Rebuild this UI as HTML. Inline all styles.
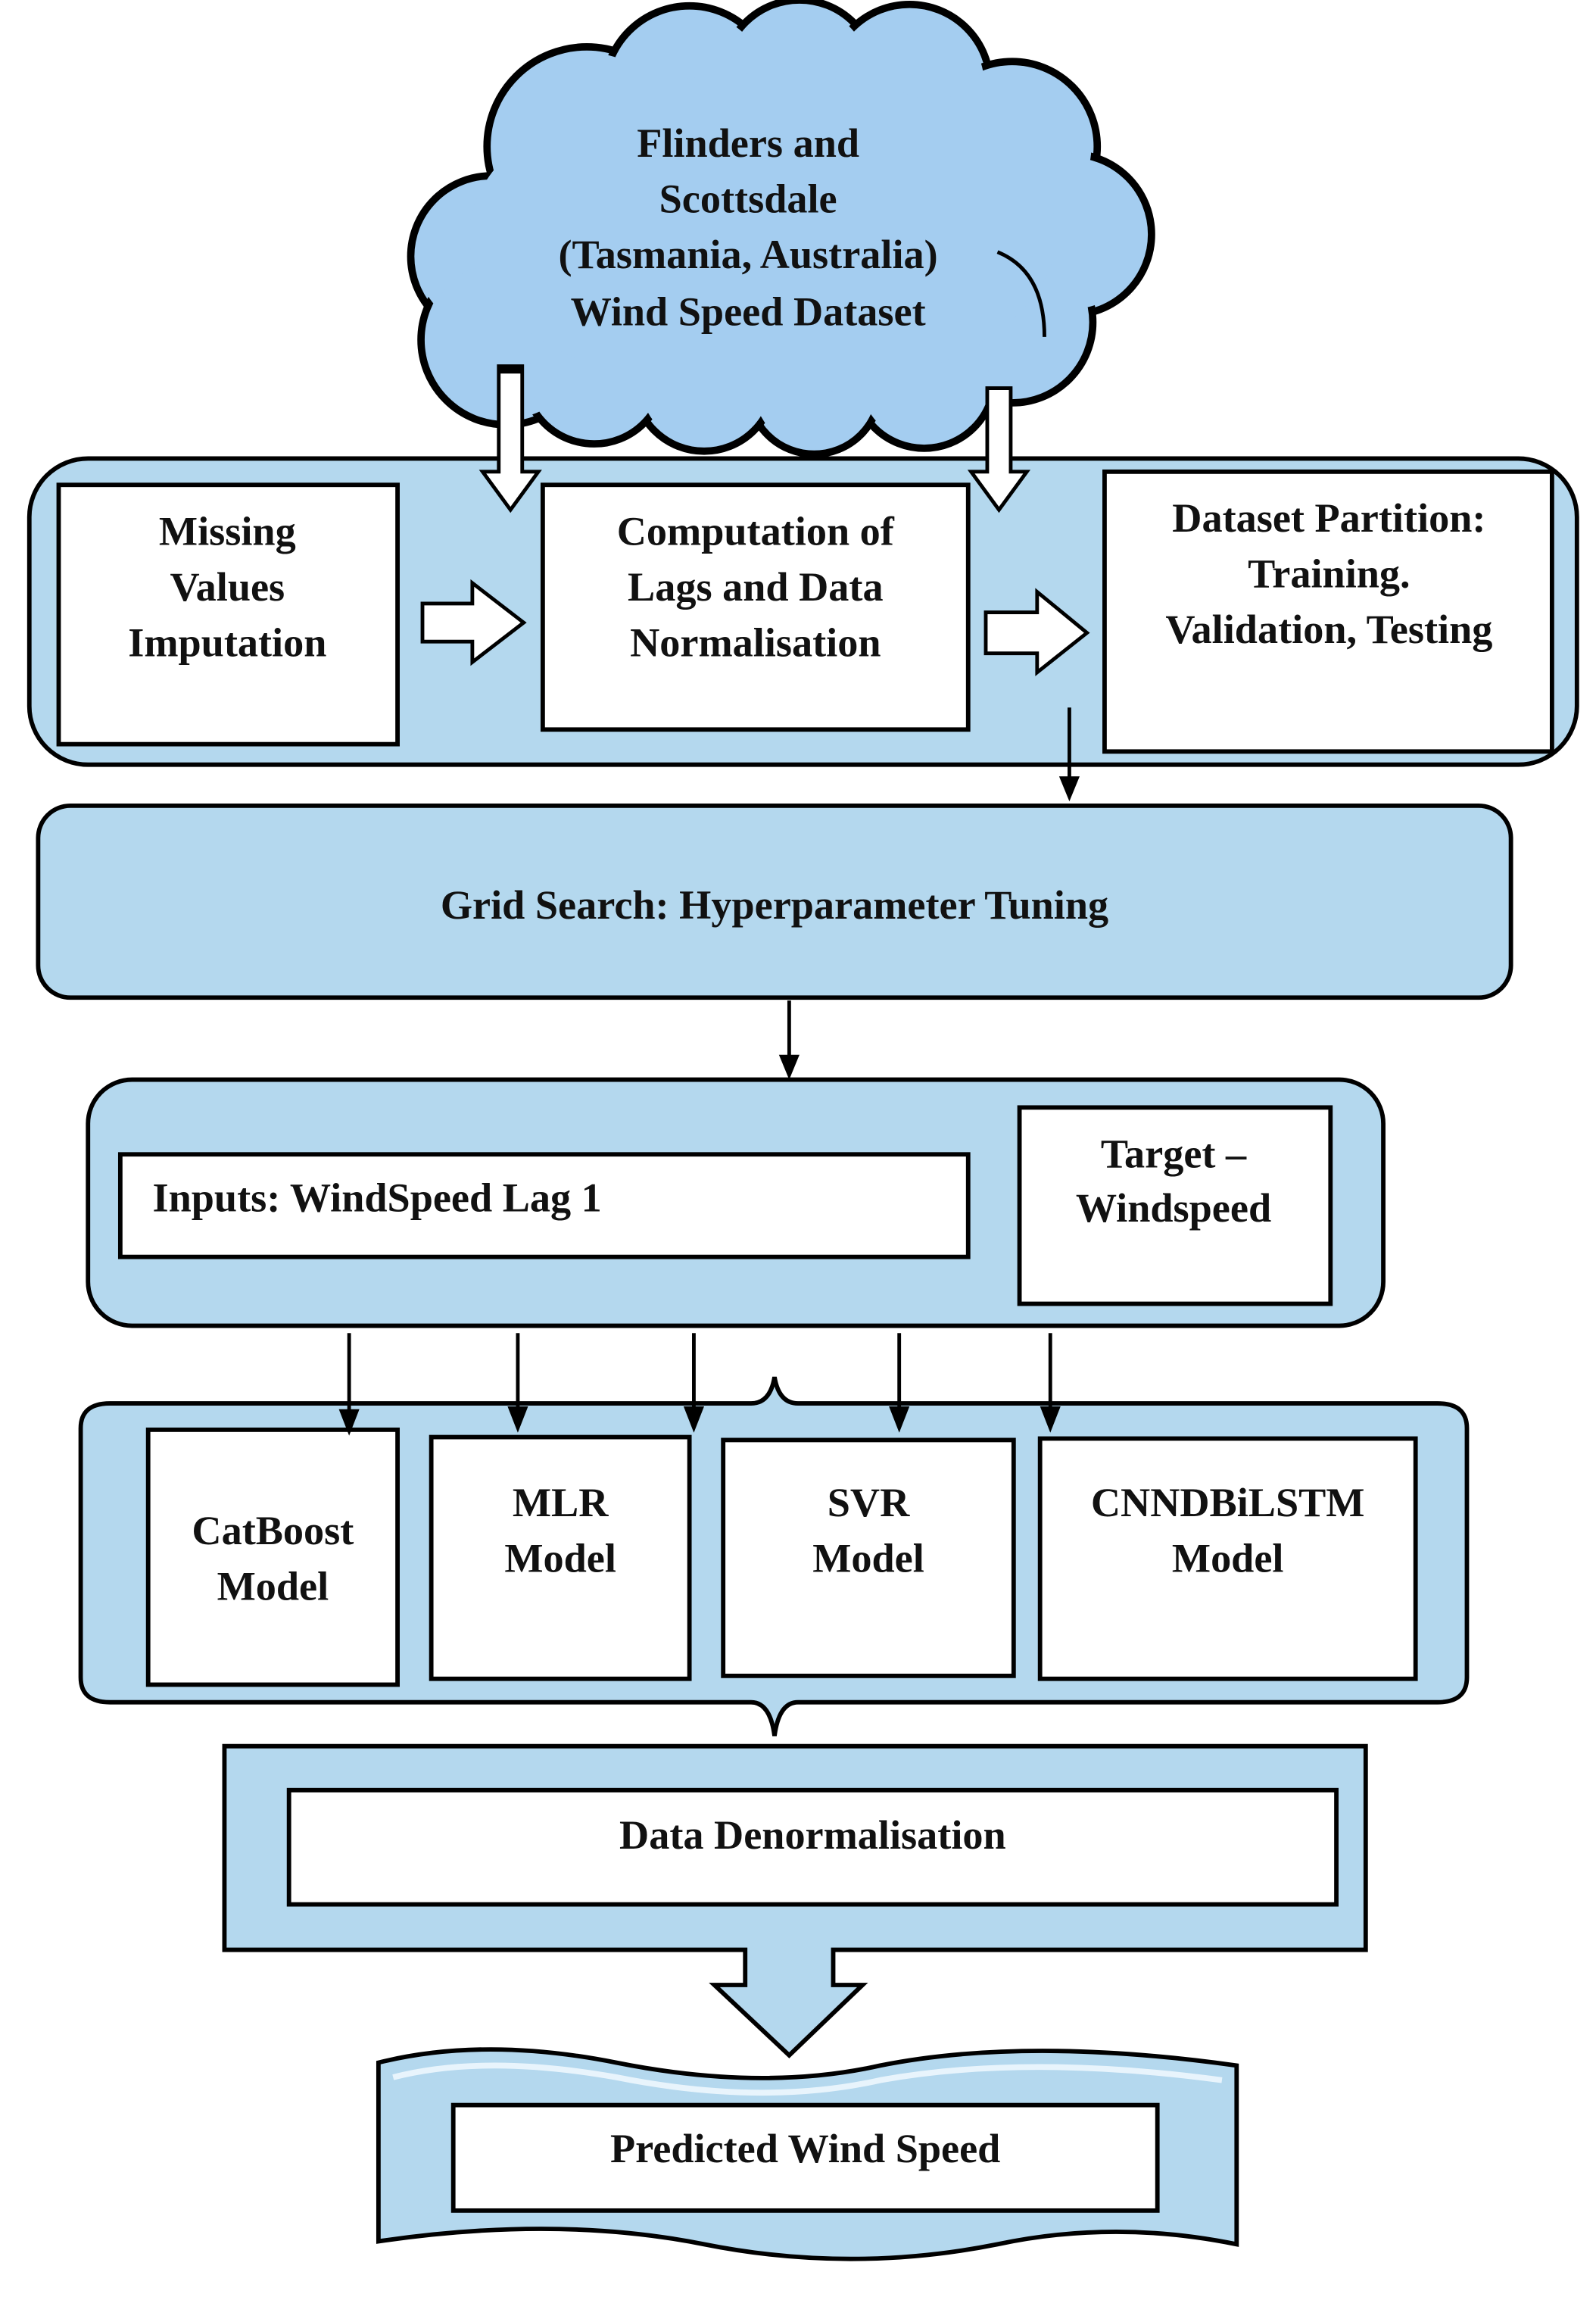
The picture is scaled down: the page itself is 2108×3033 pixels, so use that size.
<!DOCTYPE html>
<html><head><meta charset="utf-8"><style>
html,body{margin:0;padding:0;background:#fff}
svg{display:block}
text{font-family:"Liberation Serif",serif;font-weight:bold;fill:#111;text-anchor:middle}
</style></head><body>
<svg width="2108" height="3033" viewBox="0 0 1088 1568" preserveAspectRatio="none" xmlns="http://www.w3.org/2000/svg">
<!-- cloud -->
<g stroke="#000" stroke-width="5" fill="#a4cdf0">
<circle cx="335" cy="175" r="55"/><circle cx="345" cy="232" r="58"/><circle cx="400" cy="100" r="68"/>
<circle cx="470" cy="62" r="58"/><circle cx="545" cy="52" r="52"/><circle cx="620" cy="58" r="55"/>
<circle cx="690" cy="100" r="58"/><circle cx="730" cy="160" r="55"/><circle cx="690" cy="220" r="55"/>
<circle cx="630" cy="258" r="48"/><circle cx="555" cy="265" r="45"/><circle cx="480" cy="260" r="48"/><circle cx="405" cy="255" r="48"/>
</g>
<g fill="#a4cdf0">
<circle cx="335" cy="175" r="51"/><circle cx="345" cy="232" r="54"/><circle cx="400" cy="100" r="64"/>
<circle cx="470" cy="62" r="54"/><circle cx="545" cy="52" r="48"/><circle cx="620" cy="58" r="51"/>
<circle cx="690" cy="100" r="54"/><circle cx="730" cy="160" r="51"/><circle cx="690" cy="220" r="51"/>
<circle cx="630" cy="258" r="44"/><circle cx="555" cy="265" r="41"/><circle cx="480" cy="260" r="44"/><circle cx="405" cy="255" r="44"/>
<ellipse cx="520" cy="160" rx="200" ry="110"/>
</g>
<path d="M680,172 Q712,185 712,230" fill="none" stroke="#000" stroke-width="2.5"/>
<g font-size="28">
<text x="510" y="107">Flinders and</text>
<text x="510" y="145">Scottsdale</text>
<text x="510" y="183">(Tasmania, Australia)</text>
<text x="510" y="222">Wind Speed Dataset</text>
</g>
<!-- panel 1 -->
<rect x="20" y="313" width="1055" height="209" rx="40" fill="#b4d8ee" stroke="#000" stroke-width="3"/>
<rect x="40" y="331" width="231" height="177" fill="#fff" stroke="#000" stroke-width="3"/>
<rect x="370" y="331" width="290" height="167" fill="#fff" stroke="#000" stroke-width="3"/>
<rect x="753" y="322" width="305" height="191" fill="#fff" stroke="#000" stroke-width="3"/>
<g font-size="28">
<text x="155" y="372">Missing</text><text x="155" y="410">Values</text><text x="155" y="448">Imputation</text>
<text x="515" y="372">Computation of</text><text x="515" y="410">Lags and Data</text><text x="515" y="448">Normalisation</text>
<text x="906" y="363">Dataset Partition:</text><text x="906" y="401">Training.</text><text x="906" y="439">Validation, Testing</text>
</g>
<!-- hollow arrows -->
<path d="M288,412 L322,412 L322,398 L357,425 L322,452 L322,438 L288,438 Z" fill="#fff" stroke="#000" stroke-width="2.5"/>
<path d="M672,418 L707,418 L707,404 L741,432 L707,459 L707,446 L672,446 Z" fill="#fff" stroke="#000" stroke-width="2.5"/>
<path d="M340,250 L356,250 L356,322 L367,322 L348,348 L329,322 L340,322 Z" fill="#fff" stroke="#000" stroke-width="2.5"/>
<rect x="339" y="249" width="18" height="6" fill="#000"/>
<path d="M673,265 L689,265 L689,322 L700,322 L681,348 L662,322 L673,322 Z" fill="#fff" stroke="#000" stroke-width="2.5"/>
<!-- grid -->
<line x1="729" y1="483" x2="729" y2="532" stroke="#000" stroke-width="2.5"/>
<path d="M722,530 L736,530 L729,547 Z" fill="#000"/>
<rect x="26" y="550" width="1004" height="131" rx="22" fill="#b4d8ee" stroke="#000" stroke-width="3"/>
<text x="528" y="627" font-size="28">Grid Search: Hyperparameter Tuning</text>
<line x1="538" y1="683" x2="538" y2="722" stroke="#000" stroke-width="2.5"/>
<path d="M531,720 L545,720 L538,737 Z" fill="#000"/>
<!-- panel 3 -->
<rect x="60" y="737" width="883" height="168" rx="30" fill="#b4d8ee" stroke="#000" stroke-width="3"/>
<rect x="82" y="788" width="578" height="70" fill="#fff" stroke="#000" stroke-width="3"/>
<rect x="695" y="756" width="212" height="134" fill="#fff" stroke="#000" stroke-width="3"/>
<text x="104" y="827" font-size="28" style="text-anchor:start">Inputs: WindSpeed Lag 1</text>
<text x="800" y="797" font-size="28">Target –</text><text x="800" y="834" font-size="28">Windspeed</text>
<!-- panel 4 brace -->
<path d="M55,975 Q55,958 75,958 L512,958 Q525,958 528,940 Q531,958 544,958 L980,958 Q1000,958 1000,975 L1000,1145 Q1000,1162 980,1162 L544,1162 Q531,1162 528,1185 Q525,1162 512,1162 L75,1162 Q55,1162 55,1145 Z" fill="#b4d8ee" stroke="#000" stroke-width="3"/>
<rect x="101" y="976" width="170" height="174" fill="#fff" stroke="#000" stroke-width="3"/>
<rect x="294" y="981" width="176" height="165" fill="#fff" stroke="#000" stroke-width="3"/>
<rect x="493" y="983" width="198" height="161" fill="#fff" stroke="#000" stroke-width="3"/>
<rect x="709" y="982" width="256" height="164" fill="#fff" stroke="#000" stroke-width="3"/>
<g stroke="#000" stroke-width="2.5">
<line x1="238" y1="910" x2="238" y2="965"/><line x1="353" y1="910" x2="353" y2="962"/>
<line x1="473" y1="910" x2="473" y2="962"/><line x1="613" y1="910" x2="613" y2="963"/><line x1="716" y1="910" x2="716" y2="963"/>
</g>
<g fill="#000">
<path d="M231,962 L245,962 L238,980 Z"/><path d="M346,960 L360,960 L353,978 Z"/>
<path d="M466,960 L480,960 L473,978 Z"/><path d="M606,960 L620,960 L613,978 Z"/><path d="M709,960 L723,960 L716,978 Z"/>
</g>
<g font-size="28">
<text x="186" y="1054">CatBoost</text><text x="186" y="1092">Model</text>
<text x="382" y="1035">MLR</text><text x="382" y="1073">Model</text>
<text x="592" y="1035">SVR</text><text x="592" y="1073">Model</text>
<text x="837" y="1035">CNNDBiLSTM</text><text x="837" y="1073">Model</text>
</g>
<!-- denorm -->
<path d="M153,1192 L931,1192 L931,1331 L568,1331 L568,1355 L588,1355 L538,1403 L487,1355 L508,1355 L508,1331 L153,1331 Z" fill="#b4d8ee" stroke="#000" stroke-width="3"/>
<rect x="197" y="1222" width="714" height="78" fill="#fff" stroke="#000" stroke-width="3"/>
<text x="554" y="1262" font-size="28">Data Denormalisation</text>
<!-- banner -->
<path d="M258,1408 Q330,1390 420,1408 Q520,1428 600,1410 Q700,1390 843,1410 L843,1532 Q760,1515 680,1532 Q580,1552 480,1532 Q380,1512 258,1530 Z" fill="#b4d8ee" stroke="#000" stroke-width="3"/>
<path d="M268,1418 Q330,1402 420,1418 Q520,1438 600,1420 Q700,1402 833,1420" fill="none" stroke="#e8f4fc" stroke-width="4"/>
<rect x="309" y="1437" width="480" height="72" fill="#fff" stroke="#000" stroke-width="3"/>
<text x="549" y="1476" font-size="28">Predicted Wind Speed</text>
</svg>
</body></html>
